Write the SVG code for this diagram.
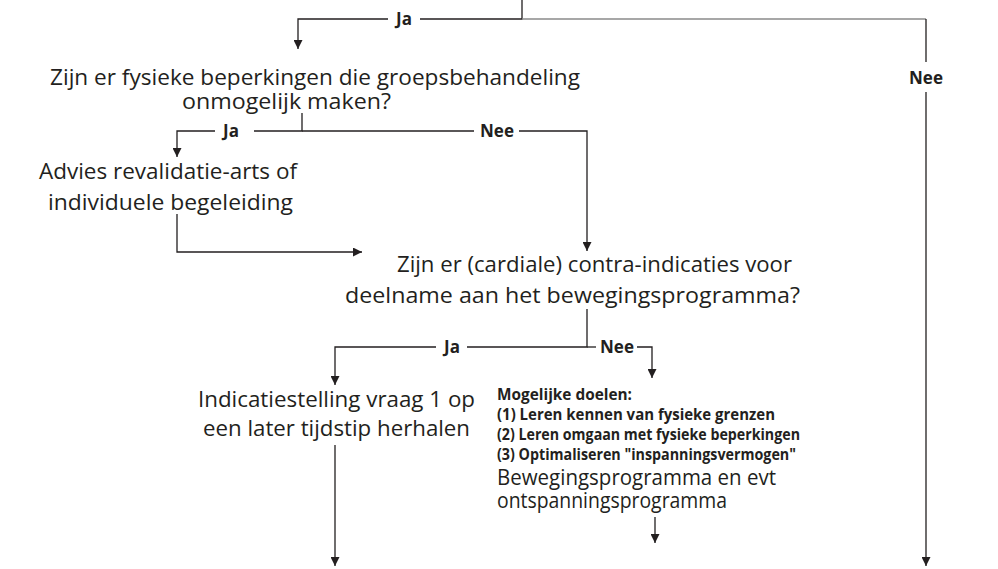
<svg xmlns="http://www.w3.org/2000/svg" width="998" height="569" viewBox="0 0 998 569">
<defs>
<marker id="ah" viewBox="0 0 10 10" refX="10" refY="5" markerWidth="9" markerHeight="9" markerUnits="userSpaceOnUse" orient="auto">
<path d="M0,0 L10,5 L0,10 Z" fill="#231f20"/>
</marker>
<style>
.t{font-family:"Open Sans","Noto Sans","Liberation Sans",sans-serif;font-size:22px;fill:#231f20}
.b{font-family:"Open Sans","Noto Sans","Liberation Sans",sans-serif;font-size:15.5px;font-weight:bold;fill:#231f20}
.l{font-family:"Open Sans","Noto Sans","Liberation Sans",sans-serif;font-size:17px;font-weight:bold;fill:#231f20;text-anchor:middle}
.c{fill:none;stroke:#231f20;stroke-width:1.3}
.g{fill:none;stroke:#8a8a8a;stroke-width:1.6}
.a{marker-end:url(#ah)}
</style>
</defs>
<rect width="998" height="569" fill="#fff"/>
<g id="connectors">
<path class="c" d="M522,0 V19 H420"/>
<path class="c a" d="M388,19 H298 V49"/>
<path class="g" d="M522,19 H926"/>
<path class="c" d="M926,19 V62"/>
<path class="c a" d="M926,92 V566"/>
<path class="c" d="M302,113 V131 H254"/>
<path class="c a" d="M215,131 H177 V157"/>
<path class="c" d="M302,131 H474"/>
<path class="c a" d="M519,131 H587 V251"/>
<path class="c a" d="M177,214 V252 H362"/>
<path class="c" d="M587,309 V347 H467"/>
<path class="c a" d="M436,347 H335 V385"/>
<path class="c" d="M587,347 H596"/>
<path class="c a" d="M637,347 H652 V378"/>
<path class="c a" d="M335,445 V566"/>
<path class="c a" d="M655,517 V543"/>
</g>
<g id="edge-labels">
<text class="l" x="404" y="25">Ja</text>
<text class="l" x="926" y="84">Nee</text>
<text class="l" x="231" y="137">Ja</text>
<text class="l" x="497" y="137">Nee</text>
<text class="l" x="452" y="353">Ja</text>
<text class="l" x="617" y="353">Nee</text>
</g>
<g id="q1">
<text class="t" x="50" y="85" textLength="530" lengthAdjust="spacingAndGlyphs">Zijn er fysieke beperkingen die groepsbehandeling</text>
<text class="t" x="182" y="109" textLength="209" lengthAdjust="spacingAndGlyphs">onmogelijk maken?</text>
</g>
<g id="advies">
<text class="t" x="39" y="179" textLength="258" lengthAdjust="spacingAndGlyphs">Advies revalidatie-arts of</text>
<text class="t" x="48" y="210" textLength="245" lengthAdjust="spacingAndGlyphs">individuele begeleiding</text>
</g>
<g id="q2">
<text class="t" x="397" y="272" textLength="395" lengthAdjust="spacingAndGlyphs">Zijn er (cardiale) contra-indicaties voor</text>
<text class="t" x="345" y="303" textLength="455" lengthAdjust="spacingAndGlyphs">deelname aan het bewegingsprogramma?</text>
</g>
<g id="indicatie">
<text class="t" x="198" y="407" textLength="277" lengthAdjust="spacingAndGlyphs">Indicatiestelling vraag 1 op</text>
<text class="t" x="203" y="436" textLength="267" lengthAdjust="spacingAndGlyphs">een later tijdstip herhalen</text>
</g>
<g id="programma">
<text class="b" x="497" y="400" textLength="135" lengthAdjust="spacingAndGlyphs">Mogelijke doelen:</text>
<text class="b" x="497" y="420" textLength="278" lengthAdjust="spacingAndGlyphs">(1) Leren kennen van fysieke grenzen</text>
<text class="b" x="497" y="440" textLength="303" lengthAdjust="spacingAndGlyphs">(2) Leren omgaan met fysieke beperkingen</text>
<text class="b" x="497" y="460" textLength="299" lengthAdjust="spacingAndGlyphs">(3) Optimaliseren "inspanningsvermogen"</text>
<text class="t" x="497" y="485" textLength="279" lengthAdjust="spacingAndGlyphs">Bewegingsprogramma en evt</text>
<text class="t" x="497" y="508" textLength="230" lengthAdjust="spacingAndGlyphs">ontspanningsprogramma</text>
</g>
</svg>
